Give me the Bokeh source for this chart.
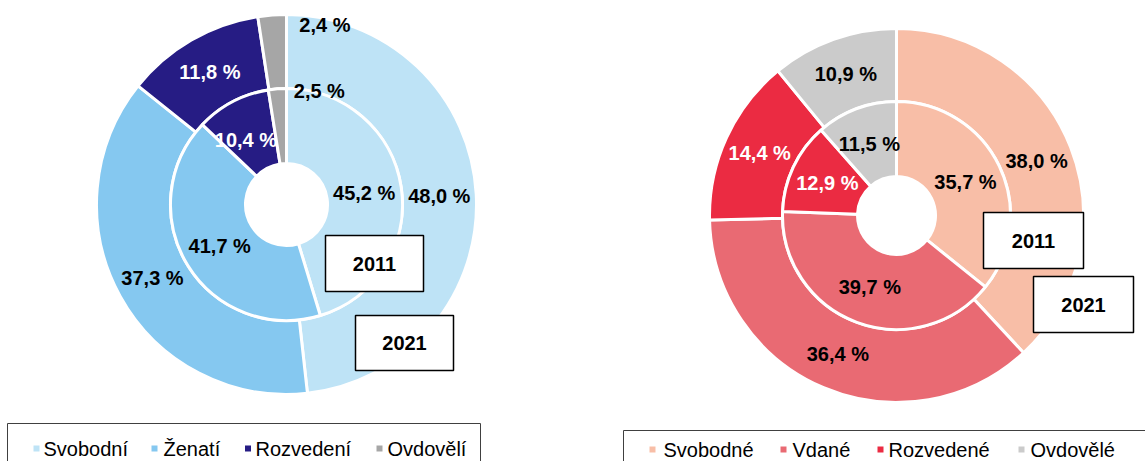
import numpy as np
from bokeh.plotting import figure
from bokeh.models import Range1d, ColumnDataSource
from bokeh.core.properties import value
from bokeh.embed import file_html
from bokeh.resources import INLINE

# ---------------- data ----------------
men_categories = ["Svobodní", "Ženatí", "Rozvedení", "Ovdovělí"]
men_2011 = [45.2, 41.7, 10.4, 2.5]
men_2021 = [48.0, 37.3, 11.8, 2.4]

women_categories = ["Svobodné", "Vdané", "Rozvedené", "Ovdovělé"]
women_2011 = [35.7, 39.7, 12.9, 11.5]
women_2021 = [38.0, 36.4, 14.4, 10.9]

years = ["2011", "2021"]

# ---------------- styles ----------------
men_colors = ["#BEE3F6", "#85C8F0", "#261C84", "#A6A6A6"]
women_colors = ["#F8BEA7", "#E96A73", "#EB2B42", "#CBCBCB"]
men_text_colors = ["black", "black", "white", "black"]
women_text_colors = ["black", "black", "white", "black"]

W, H = 1145, 461
OFF = 0
FONT = "Liberation Sans"


def X(img_x):
    return img_x - OFF


def Y(img_y):
    return (OFF + H) - img_y


p = figure(width=W, height=H, output_backend="svg", toolbar_location=None,
           x_range=Range1d(0, W), y_range=Range1d(0, H),
           min_border=0, min_border_left=0, min_border_right=0,
           min_border_top=0, min_border_bottom=0)
p.axis.visible = False
p.grid.visible = False
p.outline_line_color = None
p.background_fill_color = "white"
p.border_fill_color = "white"


def fmt(v):
    return f"{v:.1f}".replace(".", ",") + " %"


def ring(values, colors, txt_colors, cx, cy, r_in, r_out, label_offsets):
    vals = np.array(values, dtype=float)
    frac = vals / vals.sum()
    cum = np.concatenate([[0.0], np.cumsum(frac)])
    start = np.pi / 2 - 2 * np.pi * cum[:-1]
    end = np.pi / 2 - 2 * np.pi * cum[1:]
    src = ColumnDataSource(dict(start=start, end=end, color=colors))
    p.annular_wedge(x=cx, y=cy, inner_radius=r_in, outer_radius=r_out,
                    start_angle="start", end_angle="end", direction="clock",
                    fill_color="color", line_color="white", line_width=3,
                    source=src)
    mid = np.pi / 2 - 2 * np.pi * (cum[:-1] + frac / 2)
    rm = (r_in + r_out) / 2
    lx = cx + rm * np.cos(mid) + np.array([o[0] for o in label_offsets])
    ly = cy + rm * np.sin(mid) + np.array([o[1] for o in label_offsets])
    lsrc = ColumnDataSource(dict(x=lx, y=ly, t=[fmt(v) for v in values],
                                 c=txt_colors))
    p.text(x="x", y="y", text="t", text_color="c", source=lsrc,
           text_font=value(FONT), text_font_style="bold",
           text_font_size="20px", text_align="center",
           text_baseline="middle")


no_off = [(0, 0)] * 4

# ---- men donut ----
mcx, mcy = X(286), Y(204)
ring(men_2021, men_colors, men_text_colors, mcx, mcy, 116, 190,
     [(0, 0), (0, 0), (0, 0), (50, 27)])
ring(men_2011, men_colors, men_text_colors, mcx, mcy, 41, 116,
     [(0, 0), (0, 0), (-4, -5), (39, 35)])

# ---- women donut ----
wcx, wcy = X(896), Y(215)
ring(women_2021, women_colors, women_text_colors, wcx, wcy, 114, 187,
     no_off)
ring(women_2011, women_colors, women_text_colors, wcx, wcy, 39, 114,
     no_off)

# ---- year boxes ----
boxes = [  # (left, top, right, bottom) in image px
    (325, 235, 423, 291), (355, 315, 453, 370),
    (983, 212, 1083, 268), (1033, 276, 1133, 332),
]
box_years = [years[0], years[1], years[0], years[1]]
bl = [X(b[0]) for b in boxes]
br = [X(b[2]) for b in boxes]
bt = [Y(b[1]) for b in boxes]
bb = [Y(b[3]) for b in boxes]
p.quad(left=bl, right=br, top=bt, bottom=bb, fill_color="white",
       line_color="black", line_width=1.5)
p.text(x=[(a + b) / 2 for a, b in zip(bl, br)],
       y=[(a + b) / 2 for a, b in zip(bt, bb)], text=box_years,
       text_font=value(FONT), text_font_style="bold", text_font_size="20px",
       text_align="center", text_baseline="middle", text_color="black")


# ---- legends ----
def legend(cats, colors, box_left, box_top, box_right, sq_x, txt_x, mid_y):
    p.quad(left=[X(box_left)], right=[X(box_right)], top=[Y(box_top)],
           bottom=[Y(480)], fill_color=None, line_color="#404040",
           line_width=1)
    p.scatter(x=[X(v) for v in sq_x], y=[Y(mid_y)] * 4,
              marker="square", size=6, fill_color=colors, line_color=None)
    p.text(x=[X(v) for v in txt_x], y=[Y(mid_y)] * 4, text=cats,
           text_font=value(FONT), text_font_size="20px",
           text_align="left", text_baseline="middle", text_color="black")


legend(men_categories, men_colors, 7, 423, 480,
       [36, 154, 247.5, 379], [43, 163, 255, 387], 448)
legend(women_categories, women_colors, 623, 430, 1160,
       [652, 783, 880, 1021], [663, 792, 888, 1030], 449)

open("out.html", "w").write(file_html(p, INLINE))
